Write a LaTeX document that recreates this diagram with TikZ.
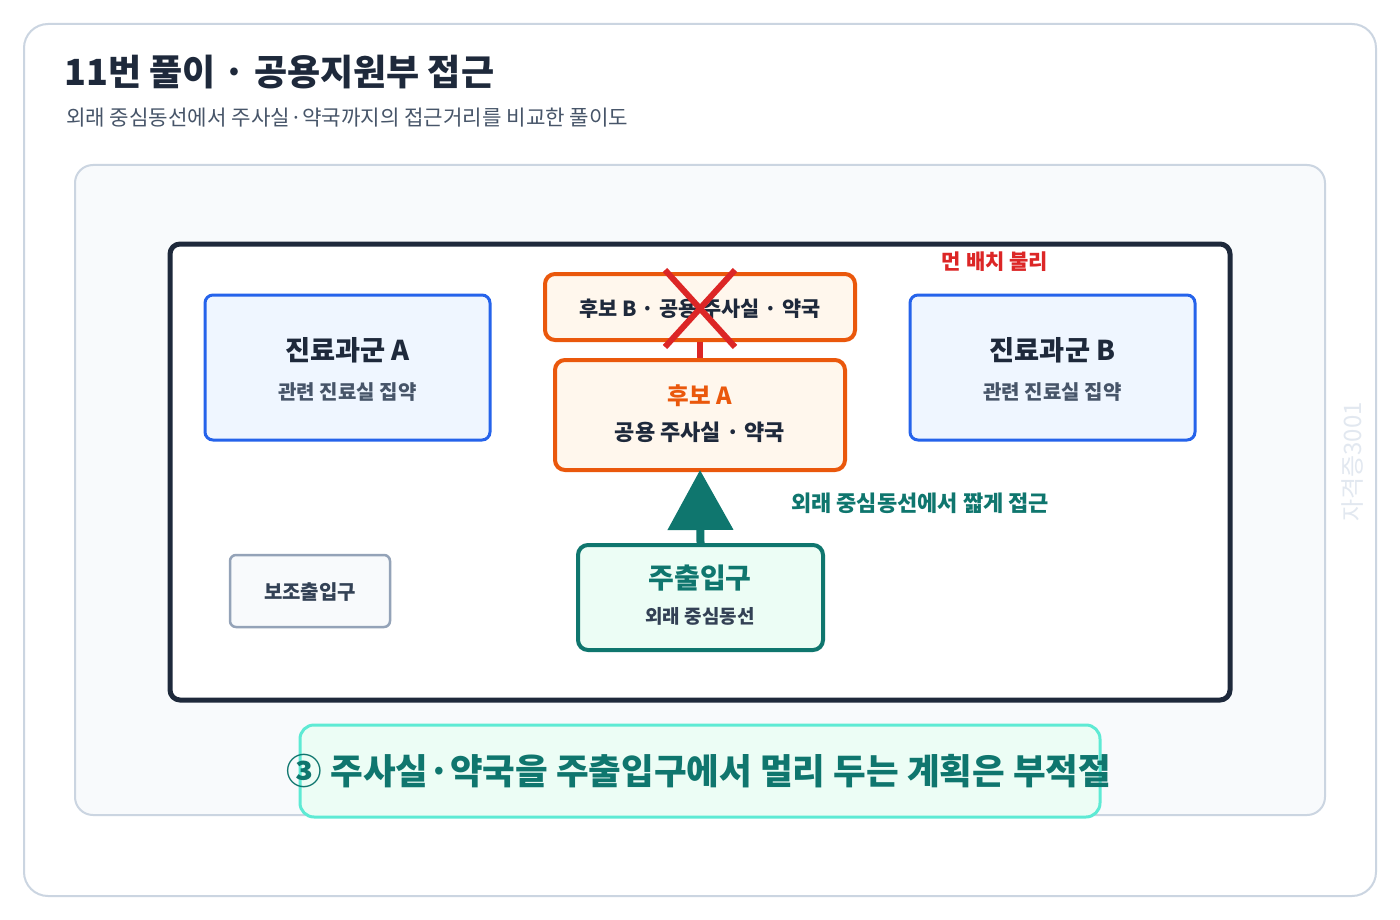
\documentclass[tikz,border=0pt]{standalone}
\usepackage{fontspec}
\setmainfont{Noto Sans CJK KR}
\usetikzlibrary{arrows.meta,positioning}
\definecolor{cardline}{HTML}{CBD5E1}
\definecolor{panelfill}{HTML}{F8FAFC}
\definecolor{ink}{HTML}{1E293B}
\definecolor{subgray}{HTML}{475569}
\definecolor{bluel}{HTML}{2563EB}
\definecolor{bluef}{HTML}{EFF6FF}
\definecolor{orl}{HTML}{EA580C}
\definecolor{orf}{HTML}{FFF7ED}
\definecolor{redx}{HTML}{DC2626}
\definecolor{teal}{HTML}{0F766E}
\definecolor{mintf}{HTML}{ECFDF5}
\definecolor{mintl}{HTML}{5EEAD4}
\definecolor{grayl}{HTML}{94A3B8}
\definecolor{grayt}{HTML}{334155}
\definecolor{wm}{HTML}{E2E8F0}
\tikzset{
  fs/.style={font=\fontsize{#1}{#1}\selectfont},
  deptbox/.style={draw=bluel, fill=bluef, line width=3pt, rounded corners=8pt, minimum width=285pt, minimum height=145pt},
  candbox/.style={draw=orl, fill=orf, line width=4pt, rounded corners=10pt},
  mainbox/.style={draw=teal, fill=mintf, line width=4pt, rounded corners=10pt, minimum width=245pt, minimum height=105pt},
  subbox/.style={draw=grayl, fill=panelfill, line width=2.5pt, rounded corners=6pt, minimum width=160pt, minimum height=72pt},
  plain/.style={inner sep=0pt, anchor=center}
}
\begin{document}
\begin{tikzpicture}[x=1pt,y=-1pt]
\useasboundingbox (0,0) rectangle (1400,920);
\fill[white] (0,0) rectangle (1400,920);
% card
\draw[cardline, line width=2pt, fill=white, rounded corners=24pt] (24,24) rectangle (1376,896);
\node[plain, anchor=west, fs=36, text=ink] (title) at (64,72) {\bfseries 11번 풀이 · 공용지원부 접근};
\node[plain, anchor=west, fs=21.2, text=subgray] (subtitle) at (66,118) {외래 중심동선에서 주사실·약국까지의 접근거리를 비교한 풀이도};
% panel
\draw[cardline, line width=2pt, fill=panelfill, rounded corners=18pt] (75,165) rectangle (1325,815);
% frame
\draw[ink, line width=5pt, fill=white, rounded corners=10pt] (170,244) rectangle (1230,700);
% watermark
\node[plain, rotate=90, fs=24, text=wm] (wmk) at (1352,462) {자격증3001};
% departments
\node[deptbox] (deptA) at (347.5,367.5) {};
\node[plain, fs=27.3, text=ink] (deptAt) at (347.5,350) {\bfseries 진료과군 A};
\node[plain, fs=20, text=subgray] (deptAs) at (347.5,392) {\bfseries 관련 진료실 집약};
\node[deptbox] (deptB) at (1052.5,367.5) {};
\node[plain, fs=27.3, text=ink] (deptBt) at (1052.5,350) {\bfseries 진료과군 B};
\node[plain, fs=20, text=subgray] (deptBs) at (1052.5,392) {\bfseries 관련 진료실 집약};
% candidate B
\node[candbox, minimum width=310pt, minimum height=66pt] (candB) at (700,307) {};
\node[plain, fs=20.8, text=ink] (candBt) at (700,309) {\bfseries 후보 B · 공용 주사실 · 약국};
% candidate A
\node[candbox, minimum width=290pt, minimum height=110pt] (candA) at (700,415) {};
\node[plain, fs=23.5, text=orl] (candAt) at (700,396) {\bfseries 후보 A};
\node[plain, fs=22, text=ink] (candAs) at (700,432) {\bfseries 공용 주사실 · 약국};
% link B-A
\draw[redx, line width=6pt] (candB.south) -- (candA.north);
% red X
\draw[redx, line width=6pt] (665,270) -- (735,347);
\draw[redx, line width=6pt] (735,270) -- (665,347);
\node[plain, fs=21, text=redx] (far) at (995,262) {\bfseries 먼 배치 불리};
% main entrance
\node[mainbox] (main) at (700.5,597.5) {};
\node[plain, fs=28, text=teal] (maint) at (700,578) {\bfseries 주출입구};
\node[plain, fs=19, text=grayt] (mains) at (700,616) {\bfseries 외래 중심동선};
\draw[teal, line width=8pt, -{Triangle[width=64pt,length=60pt]}] (main.north) -- ([yshift=2pt]candA.south);
\node[plain, fs=22, text=teal] (short) at (920,503) {\bfseries 외래 중심동선에서 짧게 접근};
% sub entrance
\node[subbox] (subent) at (310,591) {};
\node[plain, fs=20, text=grayt] (subentt) at (310,592) {\bfseries 보조출입구};
% banner
\node[draw=mintl, fill=mintf, line width=3pt, rounded corners=14pt, minimum width=800pt, minimum height=92pt] (banner) at (700,771) {};
\node[plain, fs=35.5, text=teal] (bannert) at (699,771) {\bfseries ③ 주사실·약국을 주출입구에서 멀리 두는 계획은 부적절};
\end{tikzpicture}
\end{document}
